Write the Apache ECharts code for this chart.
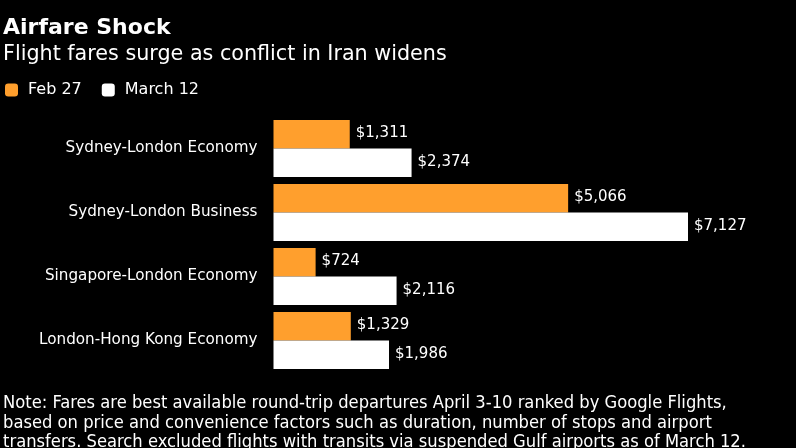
<!DOCTYPE html>
<html>
<head>
<meta charset="utf-8">
<title>Airfare Shock</title>
<style>
html, body { margin: 0; padding: 0; background: #000; }
#chart { width: 796px; height: 448px; }
</style>
<script src="https://cdn.jsdelivr.net/npm/echarts@6/dist/echarts.min.js"></script>
</head>
<body>
<div id="chart"></div>
<script>
var categories = ['Sydney-London Economy', 'Sydney-London Business', 'Singapore-London Economy', 'London-Hong Kong Economy'];
var feb27 = [1311, 5066, 724, 1329];
var march12 = [2374, 7127, 2116, 1986];
var noteLines = [
	'Note: Fares are best available round-trip departures April 3-10 ranked by Google Flights,',
	'based on price and convenience factors such as duration, number of stops and airport',
	'transfers. Search excluded flights with transits via suspended Gulf airports as of March 12.'
];

var FONT = '"DejaVu Sans", sans-serif';

function money(p) { // $1,311
	return '$' + p.value.toLocaleString('en-US');
}

var myChart = echarts.init(document.getElementById('chart'));
myChart.setOption({
	backgroundColor: '#000',
	animation: false,
	textStyle: { fontFamily: FONT },
	title: [
		{ text: 'Airfare Shock', left: 3, top: 17, padding: 0, textStyle: { color: '#fff', fontFamily: FONT, fontWeight: 'bold', fontSize: 22 } },
		{ text: 'Flight fares surge as conflict in Iran widens', left: 3, top: 44, padding: 0, textStyle: { color: '#fff', fontFamily: FONT, fontWeight: 'normal', fontSize: 20.7 } },
		{ text: noteLines.join('\n'), left: 3, top: 394, padding: 0, textStyle: { color: '#fff', fontFamily: '"DejaVu Sans Condensed", "DejaVu Sans", sans-serif', fontWeight: 'normal', fontSize: 18.2, lineHeight: 19.5 } }
	],
	legend: {
		left: 0,
		top: 77,
		itemWidth: 13,
		itemHeight: 13,
		itemGap: 20,
		icon: 'roundRect',
		textStyle: { color: '#fff', fontFamily: FONT, fontSize: 16, padding: [0, 0, 0, 5] },
		data: ['Feb 27', 'March 12']
	},
	grid: { left: 273.5, top: 116.5, width: 414.5, height: 256 },
	xAxis: { type: 'value', min: 0, max: 7127, show: false },
	yAxis: {
		type: 'category',
		inverse: true,
		data: categories,
		axisLine: { show: false },
		axisTick: { show: false },
		axisLabel: { color: '#fff', fontFamily: FONT, fontSize: 15.2, margin: 16, padding: [0, 0, 2, 0] }
	},
	series: [
		{
			name: 'Feb 27',
			type: 'bar',
			data: feb27,
			barGap: 0,
			barCategoryGap: '11%',
			itemStyle: { color: '#FF9F2D' },
			label: { show: true, position: 'right', distance: 6, offset: [0, -1], color: '#fff', fontFamily: FONT, fontSize: 15, formatter: money }
		},
		{
			name: 'March 12',
			type: 'bar',
			data: march12,
			itemStyle: { color: '#fff' },
			label: { show: true, position: 'right', distance: 6, offset: [0, -1], color: '#fff', fontFamily: FONT, fontSize: 15, formatter: money }
		}
	]
});
</script>
</body>
</html>
